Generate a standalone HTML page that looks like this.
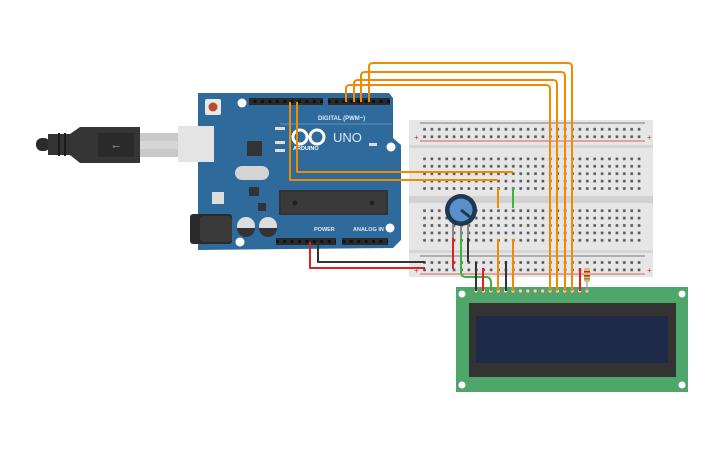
<!DOCTYPE html>
<html><head><meta charset="utf-8"><style>
html,body{margin:0;padding:0;background:#fff;}
svg{display:block;font-family:"Liberation Sans",sans-serif;}
</style></head><body>
<svg width="725" height="453" viewBox="0 0 725 453" xmlns="http://www.w3.org/2000/svg">
<defs>
<pattern id="holes" x="421" y="0" width="7.4" height="7.4" patternUnits="userSpaceOnUse">
<rect x="2.2" y="2.2" width="2.6" height="2.6" fill="#555"/>
</pattern>
<pattern id="hdr" x="0" y="0" width="7.4" height="7" patternUnits="userSpaceOnUse">
<rect width="7.4" height="7" fill="#2a2a2a"/><rect x="2" y="2" width="3" height="3" fill="#111"/>
</pattern>
</defs>

<!-- USB cable -->
<rect x="36" y="138" width="14" height="13" rx="6" fill="#2b2b2b"/>
<rect x="48" y="134" width="22" height="21" fill="#333"/>
<rect x="58" y="133" width="2" height="23" fill="#1c1c1c"/>
<rect x="64" y="133" width="2" height="23" fill="#1c1c1c"/>
<path d="M70 134 L80 127 L140 127 L140 163 L80 163 L70 155 Z" fill="#353535"/>
<rect x="98" y="133" width="36" height="24" fill="#2a2a2a"/>
<text x="116" y="149" font-size="10" fill="#777" text-anchor="middle">⭠</text>
<rect x="140" y="133" width="38" height="24" fill="#c9c9c9"/>
<rect x="140" y="141" width="38" height="8" fill="#d6d6d6"/>

<!-- Arduino board -->
<path d="M198 93 L389 93 L393 98 L393 138 L401 145 L401 240 L393 248 L198 250 Z" fill="#2e6a9c"/>
<rect x="178" y="126" width="36" height="36" fill="#e4e4e4"/>
<rect x="190" y="214" width="42" height="30" rx="3" fill="#2a2a2a"/>
<rect x="200" y="216" width="32" height="26" rx="4" fill="#3a3a3a"/>
<rect x="205" y="99" width="16" height="16" rx="2" fill="#e8e8e8"/>
<circle cx="213" cy="107" r="4.5" fill="#b84a2e"/>
<circle cx="242" cy="103" r="4.5" fill="#fff"/>
<circle cx="391" cy="147" r="4.5" fill="#fff"/>
<circle cx="390" cy="228" r="4.5" fill="#fff"/>
<circle cx="240" cy="242" r="4.5" fill="#fff"/>
<!-- headers -->
<rect x="249" y="98" width="74" height="7" fill="url(#hdr)"/>
<rect x="328" y="98" width="62" height="7" fill="url(#hdr)"/>
<rect x="276" y="238" width="60" height="7" fill="url(#hdr)"/>
<rect x="342" y="238" width="46" height="7" fill="url(#hdr)"/>
<text x="318" y="120" font-size="6" fill="#dfe8f0" font-weight="bold">DIGITAL (PWM~)</text>
<line x1="280" y1="124" x2="392" y2="124" stroke="#9fbbd3" stroke-width="0.6"/>
<text x="314" y="231" font-size="5.5" fill="#dfe8f0" font-weight="bold">POWER</text>
<text x="353" y="231" font-size="5.5" fill="#dfe8f0" font-weight="bold">ANALOG IN</text>
<!-- logo -->
<circle cx="300" cy="137" r="7" fill="none" stroke="#fff" stroke-width="3"/>
<circle cx="317" cy="137" r="7" fill="none" stroke="#fff" stroke-width="3"/>
<text x="293" y="150" font-size="5.5" fill="#fff" font-weight="bold">ARDUINO</text>
<text x="333" y="142" font-size="13" fill="#dfe8f0">UNO</text>
<rect x="275" y="127" width="10" height="3" fill="#ddd"/>
<rect x="275" y="141" width="10" height="3" fill="#ddd"/>
<rect x="275" y="149" width="10" height="3" fill="#ddd"/>
<rect x="369" y="143" width="8" height="3" fill="#ddd"/>
<rect x="247" y="141" width="15" height="15" fill="#333"/>
<rect x="235" y="166" width="34" height="14" rx="7" fill="#d4d4d4"/>
<rect x="249" y="187" width="10" height="9" fill="#333"/>
<rect x="212" y="192" width="12" height="12" fill="#ddd"/>
<rect x="258" y="203" width="8" height="8" fill="#333"/>
<circle cx="246" cy="226" r="9" fill="#ddd"/><path d="M237 228 A9 9 0 0 0 255 228 Z" fill="#333"/>
<circle cx="268" cy="226" r="9" fill="#ddd"/><path d="M259 228 A9 9 0 0 0 277 228 Z" fill="#333"/>
<rect x="279" y="190" width="109" height="25" fill="#333"/>
<rect x="281" y="192" width="105" height="21" fill="#3a3a3a"/>
<circle cx="295" cy="203" r="2.5" fill="#222"/><circle cx="372" cy="203" r="2.5" fill="#222"/>

<!-- Breadboard -->
<rect x="409" y="120" width="244" height="157" fill="#e6e6e6"/>
<rect x="409" y="145" width="244" height="3" fill="#d6d6d6"/>
<rect x="409" y="196" width="244" height="7" fill="#d2d2d2"/>
<rect x="409" y="250" width="244" height="3" fill="#d6d6d6"/>
<line x1="420" y1="123" x2="645" y2="123" stroke="#555" stroke-width="0.8"/>
<line x1="420" y1="141" x2="645" y2="141" stroke="#c33" stroke-width="0.8"/>
<line x1="420" y1="256" x2="645" y2="256" stroke="#555" stroke-width="0.8"/>
<line x1="420" y1="274" x2="645" y2="274" stroke="#c33" stroke-width="0.8"/>
<text x="414" y="140" font-size="8" fill="#c33">+</text><text x="647" y="140" font-size="8" fill="#c33">+</text>
<text x="414" y="273" font-size="8" fill="#c33">+</text><text x="647" y="273" font-size="8" fill="#c33">+</text>
<rect x="421" y="125" width="222" height="15" fill="url(#holes)"/>
<rect x="421" y="258" width="222" height="15" fill="url(#holes)"/>
<rect x="421" y="154" width="222" height="37" fill="url(#holes)"/>
<rect x="421" y="206" width="222" height="37" fill="url(#holes)"/>

<!-- LCD -->
<rect x="456" y="287" width="232" height="105" fill="#4fa66b"/>
<circle cx="462" cy="294" r="3.5" fill="#fff"/><circle cx="682" cy="294" r="3.5" fill="#fff"/>
<circle cx="462" cy="385" r="3.5" fill="#fff"/><circle cx="682" cy="385" r="3.5" fill="#fff"/>
<rect x="469" y="303" width="207" height="74" fill="#333"/>
<rect x="476" y="316" width="192" height="47" fill="#1e2a48"/>
<g fill="#e8d8a0" stroke="#777" stroke-width="0.6">
<circle cx="476" cy="291" r="2"/><circle cx="483.4" cy="291" r="2"/><circle cx="490.8" cy="291" r="2"/><circle cx="498.2" cy="291" r="2"/>
<circle cx="505.6" cy="291" r="2"/><circle cx="513" cy="291" r="2"/><circle cx="520.4" cy="291" r="2"/><circle cx="527.8" cy="291" r="2"/>
<circle cx="535.2" cy="291" r="2"/><circle cx="542.6" cy="291" r="2"/><circle cx="550" cy="291" r="2"/><circle cx="557.4" cy="291" r="2"/>
<circle cx="564.8" cy="291" r="2"/><circle cx="572.2" cy="291" r="2"/><circle cx="579.6" cy="291" r="2"/><circle cx="587" cy="291" r="2"/>
</g>

<!-- Wires -->
<g fill="none" stroke-width="2" stroke-linejoin="round">
<path d="M297 102 V172 H513" stroke="#f08a00"/>
<path d="M290 102 V180 H498" stroke="#f08a00"/>
<path d="M498 188 V208" stroke="#f08a00"/>
<path d="M513 188 V208" stroke="#3ab53a"/>
<path d="M498 239 V291" stroke="#f08a00"/>
<path d="M513 239 V291" stroke="#f08a00"/>
<path d="M346 102 V89 Q346 85 350 85 H546 Q550 85 550 89 V291" stroke="#f08a00"/>
<path d="M354 102 V84 Q354 80 358 80 H553 Q557 80 557 84 V291" stroke="#f08a00"/>
<path d="M361 102 V76 Q361 72 365 72 H561 Q565 72 565 76 V291" stroke="#f08a00"/>
<path d="M369 102 V67 Q369 63 373 63 H568 Q572 63 572 67 V291" stroke="#f08a00"/>
<path d="M310 242 V268 H425" stroke="#e02020"/>
<path d="M318 242 V262 H425" stroke="#333"/>
<path d="M453 238 V269" stroke="#e02020"/>
<path d="M468 238 V262" stroke="#333"/>
<path d="M461 238 V272 Q461 277 466 277 H486 Q491 277 491 283 V291" stroke="#3ab53a"/>
<path d="M476 262 V291" stroke="#333"/>
<path d="M483 268 V291" stroke="#e02020"/>
<path d="M506 261 V291" stroke="#333"/>
<path d="M580 268 V291" stroke="#e02020"/>
</g>
<!-- resistor -->
<line x1="587" y1="268" x2="587" y2="291" stroke="#999" stroke-width="1.2"/>
<rect x="584" y="268" width="6" height="14" rx="2" fill="#d9b878"/>
<rect x="584" y="271" width="6" height="1.5" fill="#c22"/>
<rect x="584" y="275" width="6" height="1.5" fill="#c22"/>
<rect x="584" y="278" width="6" height="1.5" fill="#6a3"/>
<!-- pot -->
<rect x="452" y="222" width="2" height="16" fill="#888"/>
<rect x="460" y="222" width="2" height="16" fill="#888"/>
<rect x="467" y="222" width="2" height="16" fill="#888"/>
<circle cx="461" cy="210" r="16" fill="#1e3850"/>
<circle cx="461" cy="210" r="11.5" fill="#5b8fc9"/>
<line x1="461" y1="210" x2="470" y2="217" stroke="#1e3850" stroke-width="3"/>
</svg>
</body></html>
